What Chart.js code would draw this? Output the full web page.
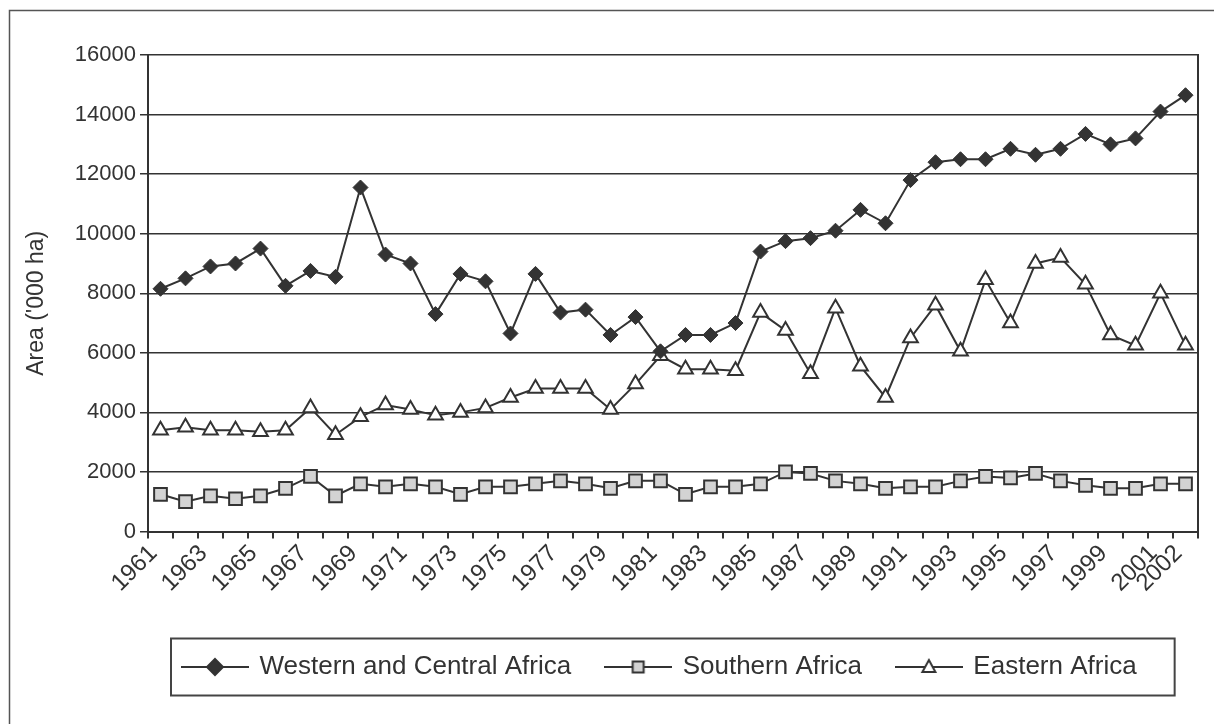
<!DOCTYPE html>
<html>
<head>
<meta charset="utf-8">
<script src="https://cdn.jsdelivr.net/npm/chart.js@4.4.1/dist/chart.umd.min.js"></script>
<style>
  body { margin: 0; background: #fff; }
  canvas { display: block; }
</style>
</head>
<body>
<canvas id="myChart" width="1214" height="724"></canvas>
<script>
const years = ['1961','1962','1963','1964','1965','1966','1967','1968','1969','1970',
  '1971','1972','1973','1974','1975','1976','1977','1978','1979','1980',
  '1981','1982','1983','1984','1985','1986','1987','1988','1989','1990',
  '1991','1992','1993','1994','1995','1996','1997','1998','1999','2000',
  '2001','2002']
const western = [8150, 8500, 8900, 9000, 9500, 8250, 8750, 8550, 11550, 9300,
  9000, 7300, 8650, 8400, 6650, 8650, 7350, 7450, 6600, 7200,
  6050, 6600, 6600, 7000, 9400, 9750, 9850, 10100, 10800, 10350,
  11800, 12400, 12500, 12500, 12850, 12650, 12850, 13350, 13000, 13200,
  14100, 14650]
const southern = [1250, 1000, 1200, 1100, 1200, 1450, 1850, 1200, 1600, 1500,
  1600, 1500, 1250, 1500, 1500, 1600, 1700, 1600, 1450, 1700,
  1700, 1250, 1500, 1500, 1600, 2000, 1950, 1700, 1600, 1450,
  1500, 1500, 1700, 1850, 1800, 1950, 1700, 1550, 1450, 1450,
  1600, 1600]
const eastern = [3400, 3500, 3400, 3400, 3350, 3400, 4150, 3250, 3850, 4250,
  4100, 3900, 4000, 4150, 4500, 4800, 4800, 4800, 4100, 4950,
  5900, 5450, 5450, 5400, 7350, 6750, 5300, 7500, 5550, 4500,
  6500, 7600, 6050, 8450, 7000, 9000, 9200, 8300, 6600, 6250,
  8000, 6250]
const seriesNames = ['Western and Central Africa', 'Southern Africa', 'Eastern Africa']

const ink = '#333333'
const font = 'Liberation Sans, Arial, sans-serif'

// little "line + marker" pictures for the legend
function legendIcon(kind) {
  const c = document.createElement('canvas')
  c.width = 68; c.height = 24
  const g = c.getContext('2d')
  g.strokeStyle = ink; g.lineWidth = 2
  g.beginPath(); g.moveTo(0, 12); g.lineTo(68, 12); g.stroke()
  g.beginPath()
  if (kind == 'diamond') {
    g.moveTo(34, 4); g.lineTo(42, 12); g.lineTo(34, 20); g.lineTo(26, 12); g.closePath()
    g.fillStyle = ink; g.fill(); g.stroke()
  } else if (kind == 'square') {
    g.rect(28.5, 6.5, 11, 11)
    g.fillStyle = '#d3d3d3'; g.fill(); g.stroke()
  } else {
    g.moveTo(34, 5); g.lineTo(40.5, 17); g.lineTo(27.5, 17); g.closePath()
    g.fillStyle = '#fff'; g.fill(); g.stroke()
  }
  return c
}
const icons = [legendIcon('diamond'), legendIcon('square'), legendIcon('triangle')]

const frame = {
  id: 'frame',
  beforeDraw(chart) {
    const ctx = chart.ctx
    ctx.save()
    ctx.fillStyle = '#fff'
    ctx.fillRect(0, 0, chart.width, chart.height)
    ctx.strokeStyle = '#555'
    ctx.lineWidth = 1.5
    ctx.strokeRect(9.5, 10.5, chart.width + 20, chart.height + 20)
    ctx.restore()
  },
  afterDraw(chart) {
    const ctx = chart.ctx
    const a = chart.chartArea
    ctx.save()
    // y axis title
    ctx.fillStyle = ink
    ctx.font = '23px ' + font
    ctx.textAlign = 'center'
    ctx.textBaseline = 'middle'
    ctx.translate(37, (a.top + a.bottom) / 2 + 10)
    ctx.rotate(-Math.PI / 2)
    ctx.fillText("Area ('000 ha)", 0, 0)
    ctx.restore()
    // legend border
    const hb = chart.legend.legendHitBoxes
    if (hb && hb.length) {
      const first = hb[0], last = hb[hb.length - 1]
      const cy = first.top + first.height / 2
      const x0 = first.left - 12.5
      ctx.save()
      ctx.strokeStyle = '#444'
      ctx.lineWidth = 2
      ctx.strokeRect(x0, cy - 28.5, last.left + last.width + 38 - x0, 57)
      ctx.restore()
    }
  }
}

new Chart('myChart', {
  type: 'line',
  data: {
    labels: years,
    datasets: [{
      label: seriesNames[0],
      data: western,
      borderColor: ink,
      borderWidth: 2,
      pointStyle: 'rectRot',
      pointRadius: 7.5,
      pointBackgroundColor: ink,
      pointBorderColor: ink,
      pointBorderWidth: 1,
      tension: 0,
      fill: false
    }, {
      label: seriesNames[1],
      data: southern,
      borderColor: ink,
      borderWidth: 2,
      pointStyle: 'rect',
      pointRadius: 9,
      pointBackgroundColor: '#d3d3d3',
      pointBorderColor: ink,
      pointBorderWidth: 2,
      tension: 0,
      fill: false
    }, {
      label: seriesNames[2],
      data: eastern,
      borderColor: ink,
      borderWidth: 2,
      pointStyle: 'triangle',
      pointRadius: 8.5,
      pointBackgroundColor: '#fff',
      pointBorderColor: ink,
      pointBorderWidth: 2,
      tension: 0,
      fill: false
    }]
  },
  options: {
    responsive: false,
    animation: false,
    layout: { padding: { left: 0, right: 0, top: 55, bottom: 34 } },
    plugins: {
      tooltip: { enabled: false },
      legend: {
        position: 'bottom',
        align: 'start',
        fullSize: false,
        labels: {
          usePointStyle: true,
          pointStyleWidth: 63,
          padding: 35.5,
          color: ink,
          font: { family: font, size: 26 },
          generateLabels: chart => chart.data.datasets.map((ds, i) => ({
            text: ds.label,
            pointStyle: icons[i],
            datasetIndex: i,
            fontColor: ink,
            lineWidth: 0,
            strokeStyle: 'transparent',
            fillStyle: 'transparent'
          }))
        }
      }
    },
    scales: {
      x: {
        offset: true,
        afterFit: s => { s.height = 87 },
        grid: { display: true, offset: true, drawOnChartArea: false, drawTicks: true, tickLength: 7, color: ink, lineWidth: 2 },
        border: { display: true, color: ink, width: 2 },
        ticks: {
          autoSkip: false,
          minRotation: 45,
          maxRotation: 45,
          padding: 1,
          labelOffset: -7,
          color: ink,
          font: { family: font, size: 24 },
          callback: function (v, i) {
            return (i % 2 == 0 || i == years.length - 1) ? years[i] : ''
          }
        }
      },
      y: {
        min: 0,
        max: 16000,
        afterFit: s => { s.width = 148 },
        grid: { color: ink, lineWidth: 1.5, tickLength: 8 },
        border: { display: true, color: ink, width: 2 },
        ticks: {
          stepSize: 2000,
          padding: 4,
          color: ink,
          font: { family: font, size: 22 },
          callback: v => String(v)
        }
      },
      y2: {
        position: 'right',
        afterFit: s => { s.width = 16 },
        grid: { drawOnChartArea: false, drawTicks: false },
        border: { display: true, color: ink, width: 2 },
        ticks: { display: false }
      }
    }
  },
  plugins: [frame]
})
</script>
</body>
</html>
